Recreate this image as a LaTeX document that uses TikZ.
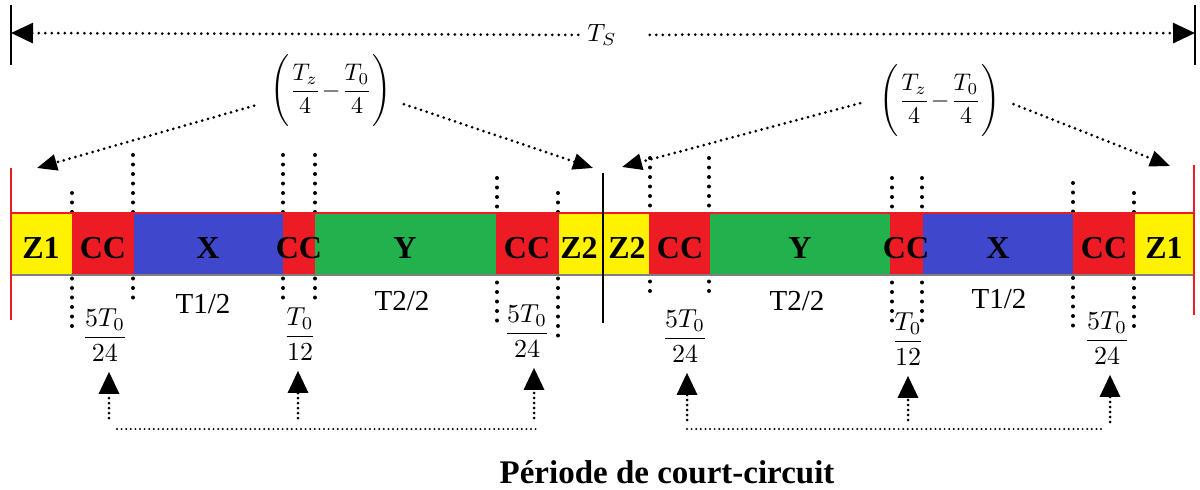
\documentclass[tikz,border=0pt]{standalone}
\usepackage{amsmath}
\usepackage{graphicx}
\usepackage{fontspec}
\setmainfont{Liberation Serif}
\usetikzlibrary{arrows.meta}
\definecolor{zyel}{HTML}{FFF200}
\definecolor{zred}{HTML}{ED1C24}
\definecolor{zblue}{HTML}{3F48CC}
\definecolor{zgreen}{HTML}{22B14C}
\newcommand{\vdl}[3]{\draw[vdots] (#1,#2) -- (#1,#3);}
\newcommand{\bigmath}[2]{\scalebox{#1}{$\displaystyle #2$}}
\begin{document}
\begin{tikzpicture}[x=1pt,y=-1pt,
  segfill/.style={draw=none, inner sep=0pt, outer sep=0pt, minimum height=62pt},
  seglabel/.style={font=\bfseries\fontsize{32}{36}\selectfont, inner sep=0pt, anchor=base},
  tlabel/.style={font=\fontsize{29}{33}\selectfont, inner sep=0pt, anchor=base},
  vdots/.style={line width=4pt, line cap=round, dash pattern=on 0pt off 9.5pt},
  tdots/.style={line width=3pt, line cap=round, dash pattern=on 0pt off 6.5pt},
  sdots/.style={line width=3pt, line cap=round, dash pattern=on 0pt off 6pt},
  stdots/.style={line width=3pt, line cap=round, dash pattern=on 0pt off 5pt},
  hdots/.style={line width=2.2pt, line cap=round, dash pattern=on 0pt off 4.6pt},
  bigtip/.style={-{Triangle[length=22pt,width=20pt]}},
  midtip/.style={-{Triangle[length=20pt,width=16pt]}},
  mathlab/.style={inner sep=0pt},
]
\useasboundingbox (0,0) rectangle (1200,490);

% ---- top T_S span
\draw[line width=1.5pt] (11,5) -- (11,65);
\draw[line width=1.5pt] (1195,5) -- (1195,65);
\coordinate (tsL) at (11,33);
\coordinate (tsR) at (1195,33);
\node[mathlab] (TS) at (602,35) {\bigmath{2.5}{T_S}};
\draw[tdots, bigtip, shorten <=9pt] (TS) -- (tsL);
\draw[tdots, bigtip, shorten <=33pt] (TS) -- (tsR);

% ---- (Tz/4 - T0/4) labels
\node[mathlab] (tz1) at (331,91) {\bigmath{2.4}{\Bigg(\dfrac{T_z}{4}\!-\!\dfrac{T_0}{4}\Bigg)}};
\node[mathlab] (tz2) at (940,101) {\bigmath{2.4}{\Bigg(\dfrac{T_z}{4}\!-\!\dfrac{T_0}{4}\Bigg)}};
\coordinate (a1) at (37,168);
\coordinate (a2) at (593,168);
\coordinate (a3) at (622,167);
\coordinate (a4) at (1170,166);
\draw[sdots, midtip, shorten <=17pt] ([yshift=-10pt]tz1.west) -- (a1);
\draw[sdots, midtip, shorten <=13pt] ([yshift=-9pt]tz1.east) -- (a2);
\draw[sdots, midtip, shorten <=20pt] ([yshift=3pt]tz2.west) -- (a3);
\draw[sdots, midtip, shorten <=14pt] ([yshift=2pt]tz2.east) -- (a4);

% ---- vertical dotted markers
\vdl{72}{193}{335}
\vdl{133}{155}{298}
\vdl{283}{155}{298}
\vdl{315}{155}{302}
\vdl{497}{178}{322}
\vdl{558}{193}{338}
\vdl{650}{158}{300}
\vdl{709}{158}{300}
\vdl{892}{178}{322}
\vdl{922}{178}{322}
\vdl{1073}{183}{327}
\vdl{1134}{193}{335}

% ---- bar fills
\node[segfill, fill=zyel,   minimum width=61,  anchor=west] (s1)  at (11,244) {};
\node[segfill, fill=zred,   minimum width=62,  anchor=west] (s2)  at (72,244) {};
\node[segfill, fill=zblue,  minimum width=150, anchor=west] (s3)  at (134,244) {};
\node[segfill, fill=zred,   minimum width=32,  anchor=west] (s4)  at (283,244) {};
\node[segfill, fill=zgreen, minimum width=181, anchor=west] (s5)  at (315,244) {};
\node[segfill, fill=zred,   minimum width=63,  anchor=west] (s6)  at (496,244) {};
\node[segfill, fill=zyel,   minimum width=44,  anchor=west] (s7)  at (559,244) {};
\node[segfill, fill=zyel,   minimum width=46,  anchor=west] (s8)  at (603,244) {};
\node[segfill, fill=zred,   minimum width=61,  anchor=west] (s9)  at (649,244) {};
\node[segfill, fill=zgreen, minimum width=180, anchor=west] (s10) at (710,244) {};
\node[segfill, fill=zred,   minimum width=33,  anchor=west] (s11) at (890,244) {};
\node[segfill, fill=zblue,  minimum width=150, anchor=west] (s12) at (923,244) {};
\node[segfill, fill=zred,   minimum width=62,  anchor=west] (s13) at (1073,244) {};
\node[segfill, fill=zyel,   minimum width=58,  anchor=west] (s14) at (1135,244) {};

% bar outline lines
\draw[zred, line width=1.5pt] (11,213) -- (1194,213);
\draw[gray, line width=2pt] (11,275) -- (1194,275);
\draw[zred, line width=1.5pt] (11,168) -- (11,320);
\draw[zred, line width=1.5pt] (1194,165) -- (1194,315);
\draw[line width=1.3pt] (603,173) -- (603,323);

% bar labels
\node[seglabel] (l1)  at (41,258)  {Z1};
\node[seglabel] (l2)  at (103,258) {CC};
\node[seglabel] (l3)  at (208,258) {X};
\node[seglabel] (l4)  at (299,258) {CC};
\node[seglabel] (l5)  at (405,258) {Y};
\node[seglabel] (l6)  at (527,258) {CC};
\node[seglabel] (l7)  at (579,258) {Z2};
\node[seglabel] (l8)  at (627,258) {Z2};
\node[seglabel] (l9)  at (680,258) {CC};
\node[seglabel] (l10) at (800,258) {Y};
\node[seglabel] (l11) at (906,258) {CC};
\node[seglabel] (l12) at (998,258) {X};
\node[seglabel] (l13) at (1104,258) {CC};
\node[seglabel] (l14) at (1164,258) {Z1};

% durations
\node[tlabel] (d1) at (203,313) {T1/2};
\node[tlabel] (d2) at (402,310) {T2/2};
\node[tlabel] (d3) at (797,310) {T2/2};
\node[tlabel] (d4) at (999,308) {T1/2};

% ---- bottom fractions
\node[mathlab] (f1) at (105,335) {\bigmath{2.6}{\frac{5T_0}{24}}};
\node[mathlab] (f2) at (300,334) {\bigmath{2.6}{\frac{T_0}{12}}};
\node[mathlab] (f3) at (527,331) {\bigmath{2.6}{\frac{5T_0}{24}}};
\node[mathlab] (f4) at (685,336) {\bigmath{2.6}{\frac{5T_0}{24}}};
\node[mathlab] (f5) at (908,339) {\bigmath{2.6}{\frac{T_0}{12}}};
\node[mathlab] (f6) at (1107,338) {\bigmath{2.6}{\frac{5T_0}{24}}};

\coordinate (u1) at (109,418);
\coordinate (u2) at (298,418);
\coordinate (u3) at (534,418);
\coordinate (u4) at (687,420);
\coordinate (u5) at (908,420);
\coordinate (u6) at (1110,422);
\foreach \i in {1,...,6}{
  \draw[stdots, bigtip, shorten >=10pt] (u\i) -- (u\i |- f\i.south);
}
\draw[hdots] (117,429) -- (537,429);
\draw[hdots] (687,429) -- (1103,429);

% ---- title
\node[font=\bfseries\fontsize{33}{38}\selectfont, inner sep=0pt, anchor=base] (title) at (667,483) {Période de court-circuit};
\end{tikzpicture}
\end{document}
